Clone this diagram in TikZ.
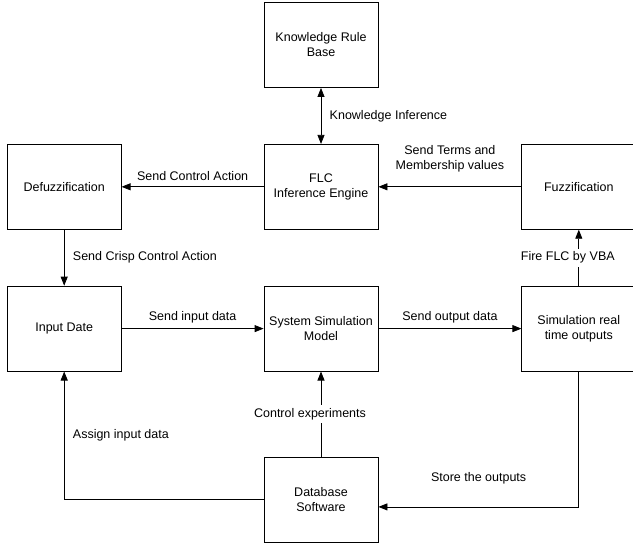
\documentclass[tikz,border=0pt]{standalone}
\usepackage{fontspec}
\setmainfont{Liberation Sans}
\usetikzlibrary{positioning,arrows.meta}

\begin{document}
\begin{tikzpicture}[->,line width=0.8pt,>={Triangle[length=9pt,width=7pt]},node distance=56pt,font=\fontsize{12.5}{15}\selectfont]
      \tikzstyle{block}=[rectangle,draw,align=center,minimum width=114pt,minimum height=85pt,inner sep=2pt]
      \useasboundingbox (0pt,0pt) rectangle (633pt,-544pt);
      \node [block] (krb) at (321pt,-45pt) {Knowledge Rule\\Base};
      \node [block] (flc) [below=of krb] {FLC\\Inference Engine};
      \node [block] (defuzz) [left=142pt of flc] {Defuzzification};
      \node [block] (fuzz) [right=143pt of flc] {Fuzzification};
      \node [block] (input) [below=of defuzz] {Input Date};
      \node [block] (sim) [below=of flc] {System Simulation\\Model};
      \node [block] (out) [below=of fuzz] {Simulation real\\time outputs};
      \node [block] (db) [below=85pt of sim] {Database\\Software};

      \path (krb) edge[<->] node[right=5pt] (ki) {Knowledge Inference} (flc)
      (flc) edge node[above=2pt] (sca) {Send Control Action} (defuzz)
      (fuzz) edge node[above=11pt,align=center] (stm) {Send Terms and\\Membership values} (flc)
      (defuzz) edge node[right=5pt] (scca) {Send Crisp Control Action} (input)
      (input) edge node[above=2pt] (sid) {Send input data} (sim)
      (sim) edge node[above=2pt] (sod) {Send output data} (out)
      (out) edge node[fill=white,xshift=-11pt] (ffv) {Fire FLC by VBA} (fuzz)
      (db) edge node[fill=white,xshift=-11pt] (ce) {Control experiments} (sim);

      \draw (out.south) |- ([yshift=-7.5pt]db.east) node[pos=0.75,above=19pt] (sto) {Store the outputs};
      \draw (db.west) -| (input.south) node[pos=0.75,right=5pt] (aid) {Assign input data};
    \end{tikzpicture}
\end{document}
